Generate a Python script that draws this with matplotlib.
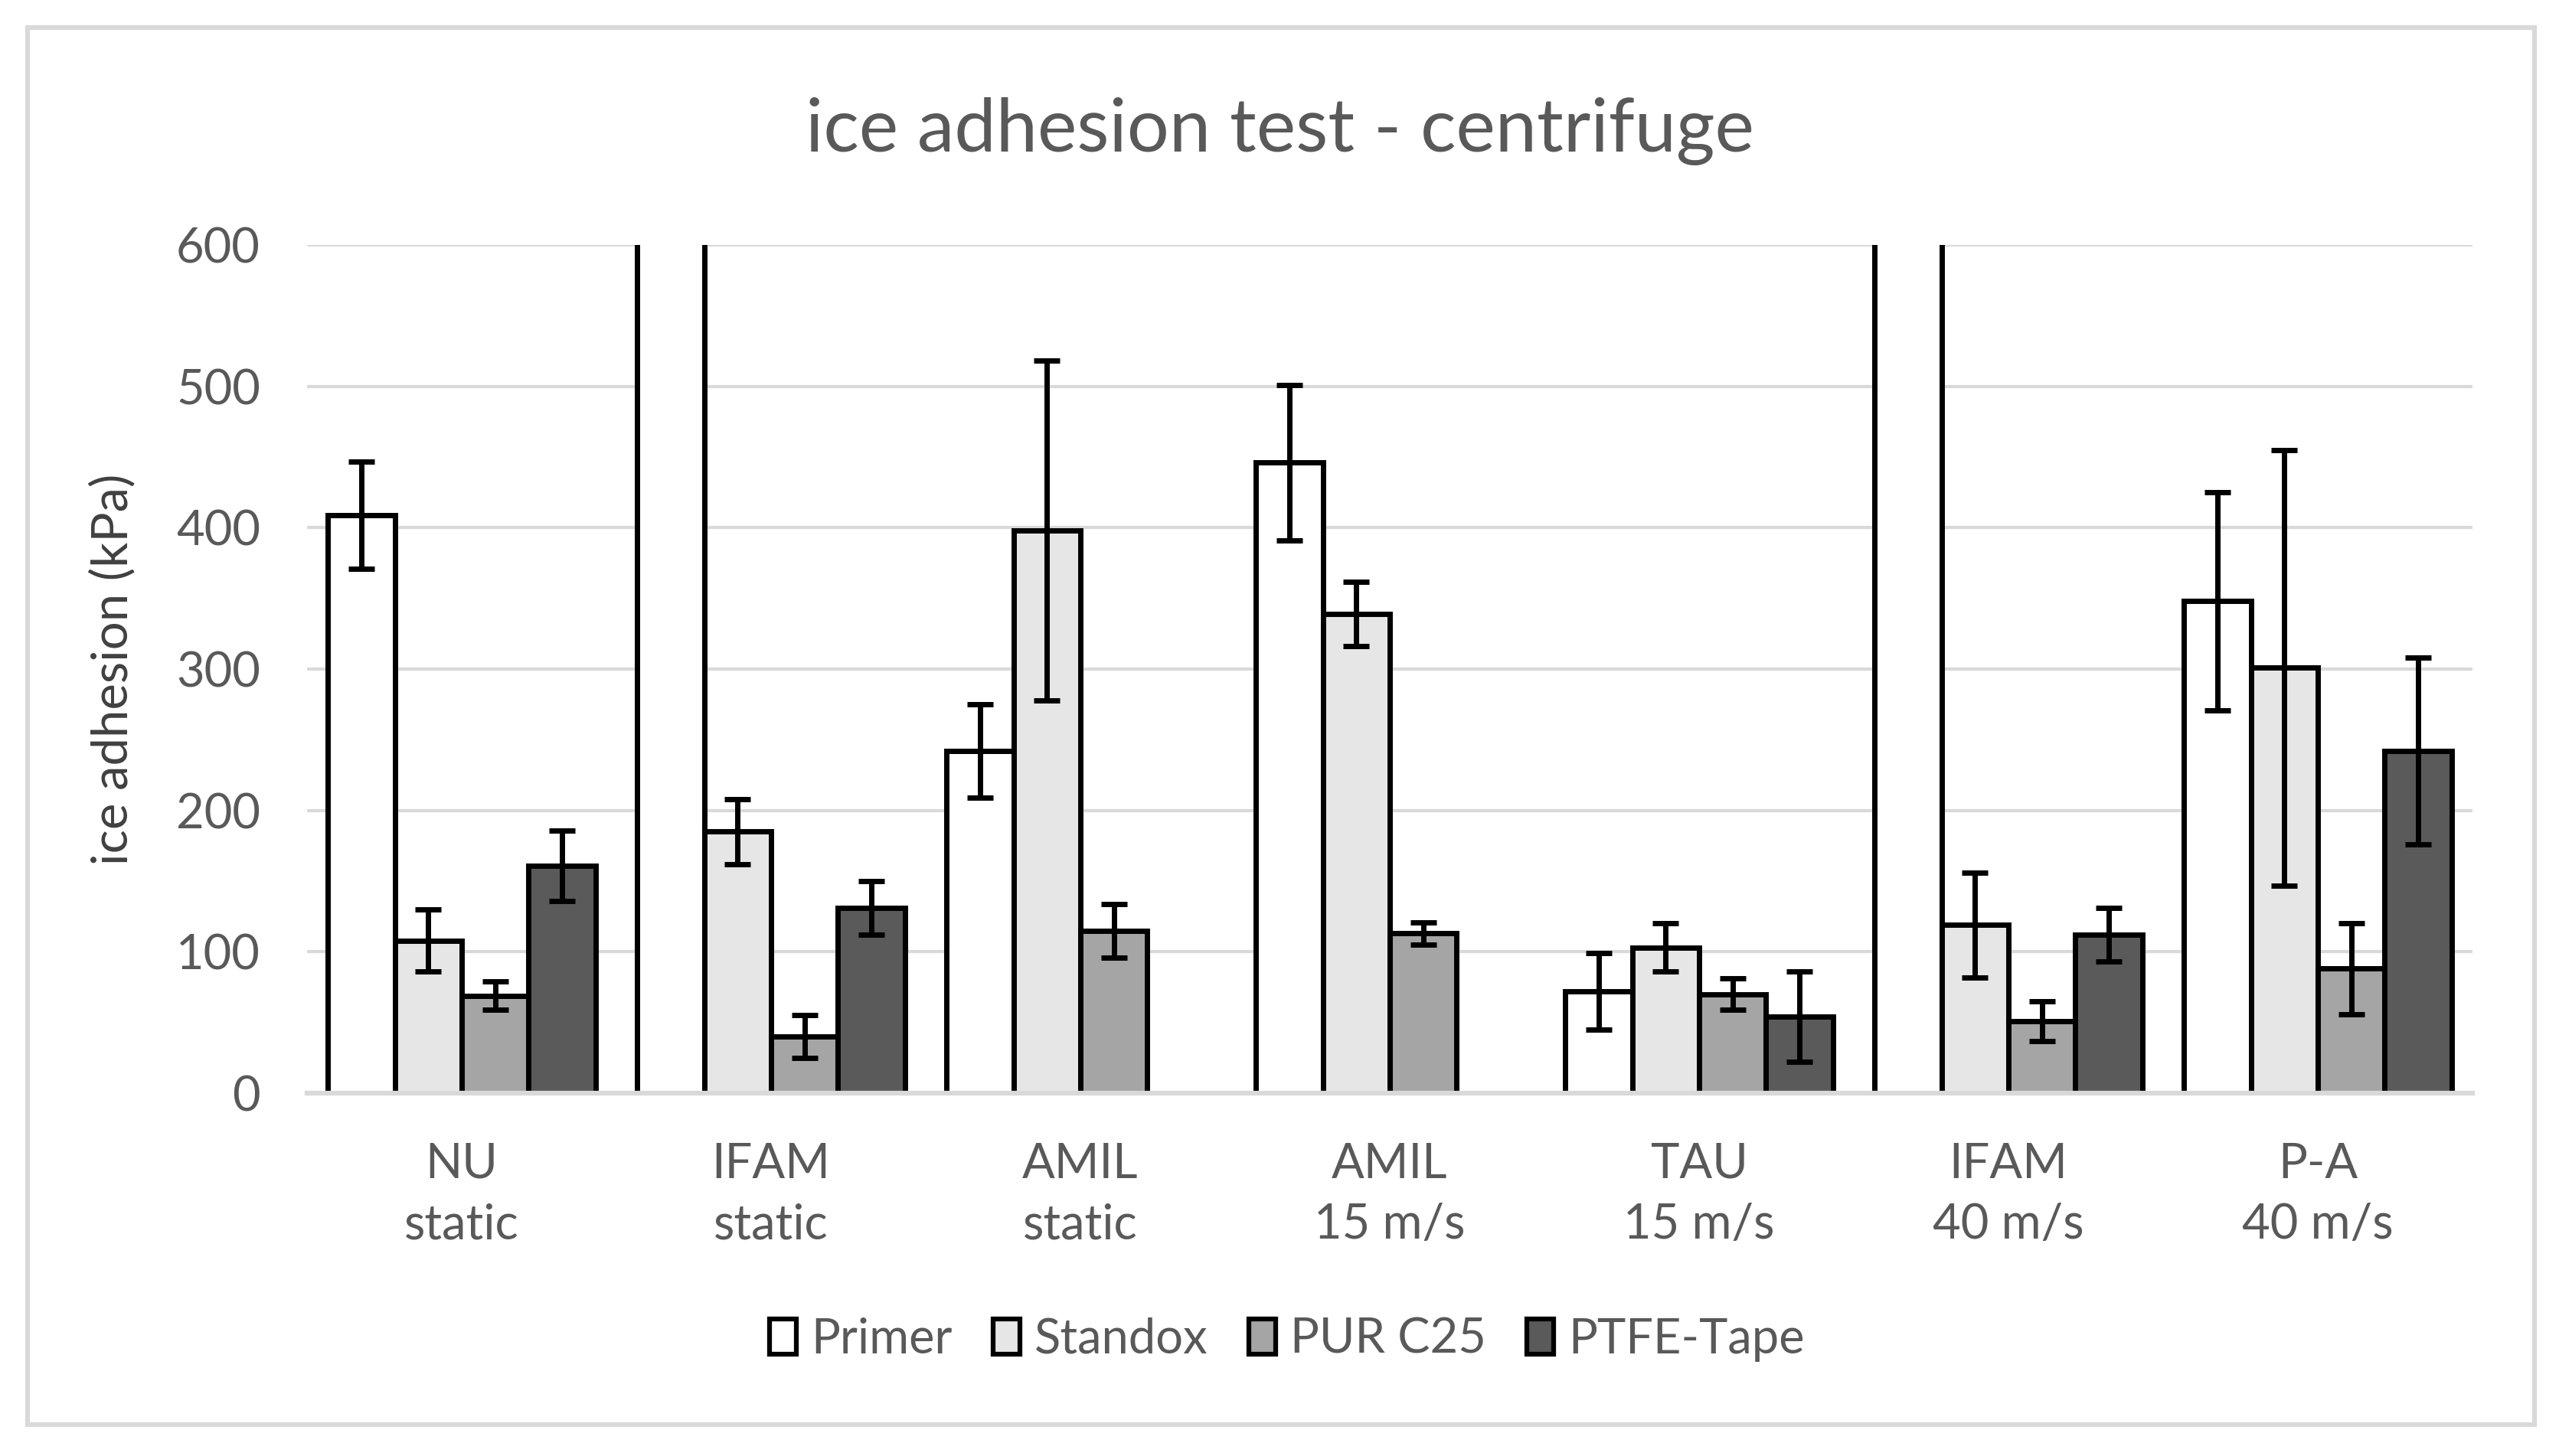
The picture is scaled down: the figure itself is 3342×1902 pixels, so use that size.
import numpy as np
import matplotlib
matplotlib.use("Agg")
import matplotlib.pyplot as plt
from matplotlib.patches import Rectangle

categories = ["NU\nstatic", "IFAM\nstatic", "AMIL\nstatic", "AMIL\n15 m/s",
              "TAU\n15 m/s", "IFAM\n40 m/s", "P-A\n40 m/s"]
series = ["Primer", "Standox", "PUR C25", "PTFE-Tape"]

primer = [409, 650, 242, 446, 72, 650, 348]
primer_err = [38, 0, 33, 55, 27, 0, 77]
standox = [108, 185, 398, 339, 103, 119, 301]
standox_err = [22, 23, 120, 23, 17, 37, 154]
pur = [69, 40, 115, 113, 70, 51, 88]
pur_err = [10, 15, 19, 8, 11, 14, 32]
ptfe = [161, 131, np.nan, np.nan, 54, 112, 242]
ptfe_err = [25, 19, np.nan, np.nan, 32, 19, 66]

values = [primer, standox, pur, ptfe]
errors = [primer_err, standox_err, pur_err, ptfe_err]
colors = ["#ffffff", "#e6e6e6", "#a5a5a5", "#5a5a5a"]

FONT = "Lato"
TXT = "#595959"
FS = 45.5

fig = plt.figure(figsize=(33.42, 19.02), dpi=100)
fig.patch.set_facecolor("white")
# outer chart border
fig.patches.append(Rectangle((36 / 3342, 1 - 1861 / 1902), (3310 - 36) / 3342, (1861 - 36) / 1902,
                             transform=fig.transFigure, fill=False, edgecolor="#d9d9d9",
                             linewidth=4.5))

ax = fig.add_axes([401 / 3342, 1 - 1428 / 1902, (3229 - 401) / 3342, (1428 - 320) / 1902])
x = np.arange(len(categories))
w = 0.216
for i, (vals, errs, c) in enumerate(zip(values, errors, colors)):
    pos = x + (i - 1.5) * w
    ax.bar(pos, vals, width=w, color=c, edgecolor="black", linewidth=5, zorder=3)
    ax.errorbar(pos, vals, yerr=errs, fmt="none", ecolor="black", elinewidth=5,
                capsize=12, capthick=5, zorder=4)

ax.axhline(0, color="#d9d9d9", linewidth=4.5, zorder=5, clip_on=False)
ax.set_xlim(-0.5, len(categories) - 0.5)
ax.set_ylim(0, 600)
ax.set_yticks([0, 100, 200, 300, 400, 500, 600])
ax.yaxis.grid(True, color="#d9d9d9", linewidth=3, zorder=0)
ax.set_axisbelow(True)
for s in ax.spines.values():
    s.set_visible(False)
ax.tick_params(axis="both", length=0, labelsize=FS, labelcolor=TXT)
ax.tick_params(axis="y", pad=44)
ax.tick_params(axis="x", pad=46)
ax.set_xticks(x)
ax.set_xticklabels(categories, linespacing=1.45)
for lab in ax.get_xticklabels() + ax.get_yticklabels():
    lab.set_fontfamily(FONT)

ax.set_ylabel("ice adhesion (kPa)", fontsize=47, color="#404040", family=FONT)
ax.yaxis.set_label_coords(-(401 - 177) / (3229 - 401), 0.5)

fig.text(0.5, 1 - 172 / 1902, "ice adhesion test - centrifuge", ha="center", va="center",
         fontsize=70, color=TXT, family=FONT)

handles = [Rectangle((0, 0), 1, 1, facecolor=c, edgecolor="black", linewidth=4.5) for c in colors]
leg = fig.legend(handles, series, loc="center", bbox_to_anchor=(1681 / 3342, 1 - 1750 / 1902),
                 ncol=4, frameon=False, fontsize=FS, handlelength=0.55, handleheight=0.75,
                 handletextpad=0.3, columnspacing=0.85, borderaxespad=0)
for t in leg.get_texts():
    t.set_color(TXT)
    t.set_fontfamily(FONT)

fig.savefig("out.png", dpi=100, facecolor="white")
